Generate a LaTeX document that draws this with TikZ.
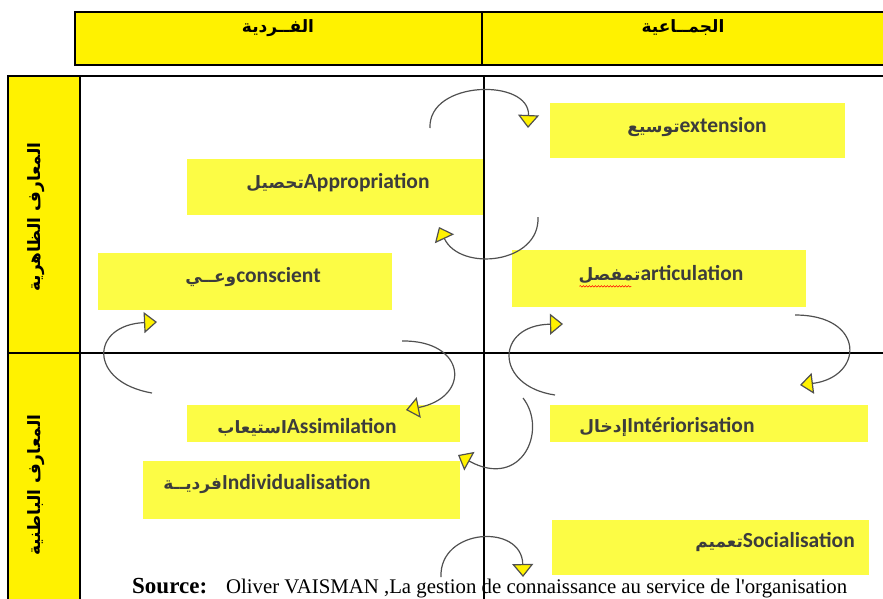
\documentclass[tikz,border=0pt]{standalone}
\usepackage{fontspec}
\setmainfont{Liberation Serif}
\newfontfamily\boxfont{Carlito}
\newfontfamily\arabicfont[Script=Arabic]{DejaVu Sans}
\usetikzlibrary{arrows.meta,decorations.pathmorphing}
\TeXXeTstate=1
\definecolor{boxyellow}{HTML}{FCFC45}
\definecolor{txtgray}{HTML}{3C3C3C}
\definecolor{arcgray}{HTML}{505050}
\newcommand{\ar}[1]{{\arabicfont\beginR #1\endR}}
\newcommand{\arb}[1]{{\arabicfont\fontsize{17}{20}\selectfont\beginR #1\endR}}

\begin{document}
\begin{tikzpicture}[x=1pt, y=-1pt]
        \tikzstyle{box}=[fill=boxyellow, inner sep=0pt, anchor=north west];
        \tikzstyle{lbl}=[font=\boxfont\bfseries\fontsize{21.5}{24}\selectfont, text=txtgray, inner sep=0pt];
        \tikzstyle{hdr}=[font=\bfseries\fontsize{17}{20}\selectfont, inner sep=0pt];
        \tikzstyle{cyc}=[draw=arcgray, line width=1.2pt, -{Triangle[length=13pt, width=21pt, fill=yellow]}];

        \useasboundingbox (0,0) rectangle (883,598);

        % headers and side column
        \draw[line width=1.2pt, fill=yellow] (75,12) rectangle (482,65);
        \draw[line width=1.2pt, fill=yellow] (482,12) rectangle (888,65);
        \draw[line width=1.2pt, fill=yellow] (8,76) rectangle (80,604);
        \draw[line width=1.2pt] (8,353) -- (80,353);
        \node[hdr] (indiv) at (278,28) {\ar{الفــردية}};
        \node[hdr] (collect) at (683,28) {\ar{الجمــاعية}};
        \node[hdr, rotate=90] (explicit) at (36,217) {\ar{المعارف الظاهرية}};
        \node[hdr, rotate=90] (tacit) at (36,485) {\ar{المعارف الباطنية}};

        % boxes
        \node[box, minimum width=295, minimum height=55] (ext) at (550,103) {};
        \node[box, minimum width=296, minimum height=56] (appr) at (187,159) {};
        \node[box, minimum width=294, minimum height=57] (consc) at (98,253) {};
        \node[box, minimum width=294, minimum height=57] (artic) at (512,250) {};
        \node[box, minimum width=273, minimum height=37] (assim) at (187,405) {};
        \node[box, minimum width=318, minimum height=37] (inter) at (550,405) {};
        \node[box, minimum width=317, minimum height=58] (indiv2) at (143,461) {};
        \node[box, minimum width=317, minimum height=55] (social) at (552,520) {};

        \node[lbl] (extt) at (697,127) {\arb{توسيع}extension};
        \node[lbl] (apprt) at (338,183) {\arb{تحصيل}Appropriation};
        \node[lbl] (conset) at (253,277) {\arb{وعــي}conscient};
        \node[lbl] (artict) at (661,274) {\arb{تمفصل}articulation};
        \node[lbl] (assimt) at (307,427) {\arb{استيعاب}Assimilation};
        \node[lbl] (intert) at (667,427) {\arb{إدخال}Intériorisation};
        \node[lbl] (indivt) at (267,484) {\arb{فرديــة}Individualisation};
        \node[lbl] (socialt) at (775,542) {\arb{تعميم}Socialisation};
        \draw[red, line width=0.5pt, decorate, decoration={snake, amplitude=0.8pt, segment length=3pt}] (artict.south west) ++(1,3) -- ++(52,0);

        % grid
        \draw[line width=1.2pt] (80,76) -- (888,76);
        \draw[line width=1.2pt] (484,76) -- (484,604);
        \draw[line width=1.2pt] (80,353) -- (888,353);

        % cycle arrows
        \coordinate (c1a) at (430,128); \coordinate (c1b) at (528,128);
        \coordinate (c2a) at (538,217); \coordinate (c2b) at (439,227);
        \coordinate (c3a) at (152,393); \coordinate (c3b) at (157,322);
        \coordinate (c4a) at (402,341); \coordinate (c4b) at (406,410);
        \coordinate (c5a) at (555,395); \coordinate (c5b) at (563,324);
        \coordinate (c6a) at (795,315); \coordinate (c6b) at (800,385);
        \coordinate (c7a) at (523,398); \coordinate (c7b) at (458,455);
        \coordinate (c8a) at (441,577); \coordinate (c8b) at (523,577);
        \draw[cyc] (c1a) .. controls (428,80) and (530,78) .. (c1b);
        \draw[cyc] (c2a) .. controls (540,264) and (460,272) .. (c2b);
        \draw[cyc] (c3a) .. controls (88,382) and (90,325) .. (c3b);
        \draw[cyc] (c4a) .. controls (466,340) and (472,397) .. (c4b);
        \draw[cyc] (c5a) .. controls (494,386) and (495,325) .. (c5b);
        \draw[cyc] (c6a) .. controls (866,315) and (864,377) .. (c6b);
        \draw[cyc] (c7a) .. controls (548,430) and (522,490) .. (c7b);
        \draw[cyc] (c8a) .. controls (439,528) and (522,523) .. (c8b);

        % source
        \node[anchor=base west, inner sep=0pt] (src) at (132,593) {\fontsize{23}{26}\selectfont\textbf{Source:}\hspace{19pt}\fontsize{20.8}{24}\selectfont Oliver VAISMAN ,La gestion de connaissance au service de l\textquotesingle organisation};
\end{tikzpicture}
\end{document}
